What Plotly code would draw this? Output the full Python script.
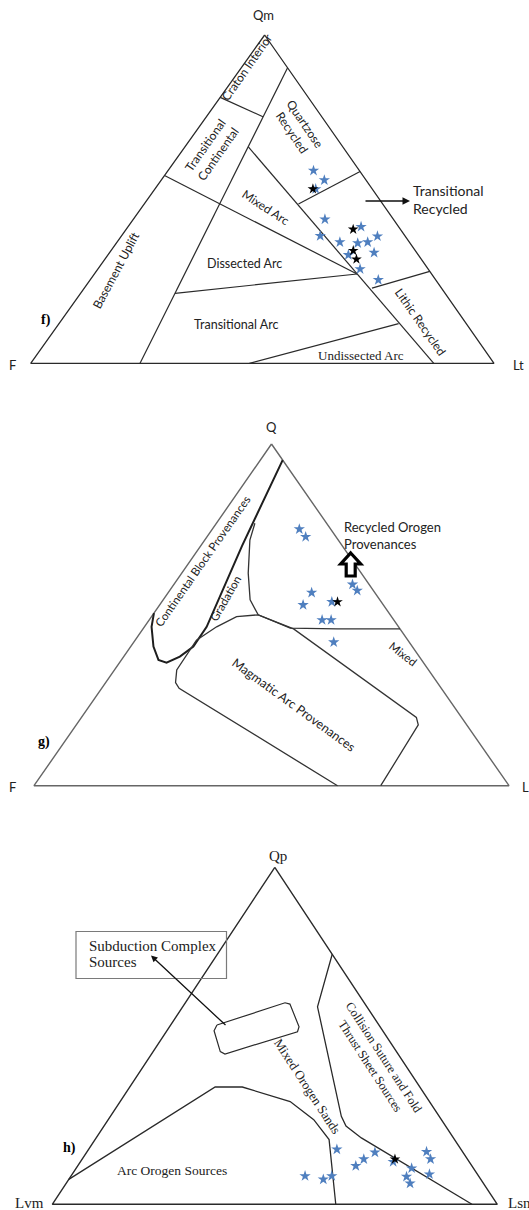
import plotly.graph_objects as go

W, H = 529, 1210

# ---------------- Panel f : Qm - F - Lt (values in %: (Qm, F, Lt)) ----------------
f_boundaries = [
    [(90, 0, 10), (0, 76.4, 23.6)],
    [(81, 19, 0), (75.1, 12.7, 12.2)],
    [(57.2, 42.8, 0), (27.2, 16.1, 56.7)],
    [(65.9, 20.4, 13.7), (0, 13, 87)],
    [(21.3, 58.3, 20.4), (27.2, 16.1, 56.7)],
    [(0, 52.8, 47.2), (12.1, 14.6, 73.3)],
    [(48.5, 18.2, 33.3), (58.4, 0, 41.6)],
    [(22.9, 15.0, 62.1), (28, 0, 72)],
]
f_blue_Qm = [58.7, 55.8, 53.1, 43.9, 41.6, 38.8, 36.9, 36.6, 36.9, 38.7, 33.7, 33.0, 28.7, 25.4]
f_blue_F = [9.9, 9.0, 12.2, 14.8, 8.1, 18.3, 15.0, 11.3, 9.0, 6.0, 9.2, 15.1, 14.7, 12.4]
f_blue_Lt = [31.4, 35.2, 34.7, 41.4, 50.3, 42.9, 48.1, 52.1, 54.1, 55.3, 57.1, 51.9, 56.6, 62.2]
f_black_Qm = [53.1, 40.8, 34.3, 31.7]
f_black_F = [12.8, 10.2, 13.4, 14.0]
f_black_Lt = [34.1, 49.0, 52.3, 54.3]

# ---------------- Panel g : Q - F - L (values in %: (Q, F, L)) ----------------
g_continental = [(50.5, 49.5, 0), (46.5, 52.0, 1.5), (40.7, 54.5, 4.8), (36.8, 55.4, 7.8),
                 (36.0, 54.1, 9.9), (37.8, 50.4, 11.8), (40.7, 46.1, 13.2), (46.5, 40.4, 13.1),
                 (70.2, 21.1, 8.7), (95.3, 0, 4.7)]
g_recycled = [(76.8, 15.1, 8.1), (71.9, 18.6, 9.5), (62.2, 23.8, 14.0), (54.4, 27.3, 18.3),
              (50.0, 27.8, 22.2), (46.1, 23.0, 30.9), (45.9, 13.2, 40.9), (45.9, 0, 54.1)]
g_magmatic = [(0, 36.1, 63.9), (28.5, 55.2, 16.3), (30.2, 55.1, 14.7), (33.9, 53.0, 13.1),
              (42.6, 44.5, 12.9), (46.5, 38.3, 15.2), (49.5, 32.6, 17.9), (50.0, 27.8, 22.2),
              (45.9, 22.4, 31.7), (21.5, 10.2, 68.3), (20.0, 9.5, 70.5), (17.8, 10.2, 72.0),
              (0, 27.0, 73.0)]
g_blue_Q = [75.0, 72.9, 58.9, 57.1, 56.5, 52.9, 53.8, 48.5, 48.5, 42.0]
g_blue_F = [6.6, 6.4, 3.5, 3.4, 13.3, 16.9, 10.4, 15.1, 13.2, 15.9]
g_blue_L = [18.3, 20.8, 37.6, 39.5, 30.2, 30.2, 35.8, 36.4, 38.3, 42.1]
g_black_Q = [53.8]
g_black_F = [9.2]
g_black_L = [37.0]

# ---------------- Panel h : Qp - Lvm - Lsn (values in %: (Qp, Lvm, Lsn)) ----------------
h_collision = [(74.2, 0, 25.8), (58.6, 11.1, 30.3), (26.1, 22.0, 51.9), (23.2, 22.4, 54.4),
               (19.7, 20.7, 59.6), (0, 5.7, 94.3)]
h_arc = [(7.4, 92.6, 0), (34.8, 46.0, 19.2), (34.8, 39.9, 25.3), (30.5, 31.3, 38.2),
         (25.1, 28.7, 46.2), (19.2, 28.2, 52.6), (0, 36.3, 63.7)]
h_subduction = [(53.2, 36.4, 10.4), (59.8, 17.8, 22.4), (59.4, 16.9, 23.7), (52.7, 18.2, 29.1),
                (51.2, 19.3, 29.5), (44.6, 38.9, 16.5), (45.3, 39.6, 15.1), (51.5, 37.9, 10.6),
                (53.2, 36.4, 10.4)]
h_blue_Qp = [16.3, 8.4, 7.4, 8.4, 11.4, 13.4, 15.4, 12.6, 10.7, 8.2, 6.2, 15.6, 13.4, 8.9]
h_blue_Lvm = [27.9, 39.0, 35.4, 33.0, 26.1, 23.3, 19.8, 17.1, 13.9, 16.3, 16.5, 8.1, 8.3, 10.8]
h_blue_Lsn = [55.8, 52.6, 57.2, 58.6, 62.5, 63.3, 64.8, 70.3, 75.4, 75.5, 77.3, 76.3, 78.3, 80.3]
h_black_Qp = [13.4]
h_black_Lvm = [16.3]
h_black_Lsn = [70.3]

TRIANGLE = [(100, 0, 0), (0, 100, 0), (0, 0, 100), (100, 0, 0)]

# panel frames (pixel placement of the triangles)
panels = [
    dict(a=0.505, x0=30.7, x1=494.0, yb=363.3, yt=35.0, edge="#2a2a2a", lw=1.3),
    dict(a=0.500, x0=34.0, x1=509.0, yb=785.7, yt=444.0, edge="#666666", lw=1.4),
    dict(a=0.500, x0=52.3, x1=497.3, yb=1204.3, yt=867.3, edge="#2a2a2a", lw=1.4),
]
PADPX = 5.0


def to_uv(pts, a):
    us, vs = [], []
    for top, left, right in pts:
        s = top + left + right
        t, r = top / s, right / s
        us.append(r + a * t)
        vs.append(t)
    return us, vs


fig = go.Figure()
layout = {}
for i, p in enumerate(panels):
    n = "" if i == 0 else str(i + 1)
    w = p["x1"] - p["x0"]
    h = p["yb"] - p["yt"]
    dx0 = max(p["x0"] - PADPX, 0)
    dx1 = min(p["x1"] + PADPX, W)
    dyb = min(p["yb"] + PADPX, H)
    dyt = max(p["yt"] - PADPX, 0)
    layout["xaxis" + n] = dict(domain=[dx0 / W, dx1 / W],
                               range=[-(p["x0"] - dx0) / w, 1 + (dx1 - p["x1"]) / w],
                               visible=False, fixedrange=True, anchor="y" + n)
    layout["yaxis" + n] = dict(domain=[1 - dyb / H, 1 - dyt / H],
                               range=[-(dyb - p["yb"]) / h, 1 + (p["yt"] - dyt) / h],
                               visible=False, fixedrange=True, anchor="x" + n)


def add_line(pts, i, color, width):
    p = panels[i]
    n = "" if i == 0 else str(i + 1)
    u, v = to_uv(pts, p["a"])
    fig.add_trace(go.Scatter(x=u, y=v, mode="lines", line=dict(color=color, width=width),
                             xaxis="x" + n, yaxis="y" + n, hoverinfo="skip"))


def add_stars(tops, lefts, rights, i, color, size):
    p = panels[i]
    n = "" if i == 0 else str(i + 1)
    u, v = to_uv(list(zip(tops, lefts, rights)), p["a"])
    fig.add_trace(go.Scatter(x=u, y=v, mode="markers", cliponaxis=False,
                             marker=dict(symbol="star", size=size, color=color,
                                         line=dict(width=0)),
                             xaxis="x" + n, yaxis="y" + n))


BLUE = "#4f7fbf"
# panel f
add_line(TRIANGLE, 0, panels[0]["edge"], panels[0]["lw"])
for b in f_boundaries:
    add_line(b, 0, "#2a2a2a", 1.2)
add_stars(f_blue_Qm, f_blue_F, f_blue_Lt, 0, BLUE, 8.5)
add_stars(f_black_Qm, f_black_F, f_black_Lt, 0, "#000000", 8)

# panel g
add_line(TRIANGLE, 1, panels[1]["edge"], panels[1]["lw"])
add_line(g_continental, 1, "#1e1e1e", 2.0)
add_line(g_recycled, 1, "#333333", 1.3)
add_line(g_magmatic, 1, "#333333", 1.3)
add_stars(g_blue_Q, g_blue_F, g_blue_L, 1, BLUE, 8.5)
add_stars(g_black_Q, g_black_F, g_black_L, 1, "#000000", 8)

# panel h
add_line(TRIANGLE, 2, panels[2]["edge"], panels[2]["lw"])
add_line(h_collision, 2, "#2a2a2a", 1.3)
add_line(h_arc, 2, "#2a2a2a", 1.3)
add_line(h_subduction, 2, "#2a2a2a", 1.2)
add_stars(h_blue_Qp, h_blue_Lvm, h_blue_Lsn, 2, BLUE, 8.5)
add_stars(h_black_Qp, h_black_Lvm, h_black_Lsn, 2, "#000000", 8)

SANS = "Lato, 'Open Sans', sans-serif"
SERIF = "'Liberation Serif', 'DejaVu Serif', serif"
annotations = []


def label(text, x, y, size=11, angle=0, family=SANS, color="#222222", xanchor="center",
          align="center"):
    annotations.append(dict(text=text, x=x / W, y=1 - y / H, xref="paper", yref="paper",
                            showarrow=False, textangle=angle, xanchor=xanchor,
                            yanchor="middle", align=align,
                            font=dict(size=size, family=family, color=color)))


# panel f labels
label("Qm", 263.5, 15, 13)
label("F", 12, 365, 13)
label("Lt", 511, 365, 13, xanchor="left")
label("Craton Interior", 247.5, 67, 12, -55)
label("Transitional<br>Continental", 211, 150, 12, -55)
label("Quartzose<br>Recycled", 298.5, 128.5, 12, 56)
label("Mixed Arc", 266, 207.5, 12, 33)
label("Dissected Arc", 244, 263, 12.5)
label("Transitional Arc", 235.5, 324, 12.5)
label("Undissected Arc", 360.5, 355, 13, family=SERIF)
label("Lithic Recycled", 420, 322, 12, 55)
label("Basement Uplift", 115.5, 270, 12, -62)
label("Transitional<br>Recycled", 411, 199, 14, xanchor="left", align="left")
label("<b>f)</b>", 46, 320, 14, family=SERIF, color="#000")

# panel g labels
label("Q", 271, 427, 13)
label("F", 12, 787, 13)
label("L", 520, 787, 13, xanchor="left")
label("<b>g)</b>", 44, 742, 14, family=SERIF, color="#000")
label("Continental Block Provenances", 202, 561, 11.5, -55)
label("Gradation", 225.5, 599, 11.5, -60)
label("Recycled Orogen<br>Provenances", 342, 536, 13, xanchor="left", align="left")
label("Mixed", 403, 653, 11.5, 38)
label("Magmatic Arc Provenances", 293.5, 704, 12.5, 36)

# panel h labels
label("Qp", 278, 856, 15, family=SERIF)
label("Lvm", 29, 1203, 15, family=SERIF)
label("Lsn", 506, 1203, 15, family=SERIF, xanchor="left")
label("<b>h)</b>", 69, 1148, 14, family=SERIF, color="#000")
label("Arc Orogen Sources", 172, 1170.5, 13.5, family=SERIF)
label("Mixed Orogen Sands", 307.5, 1086.5, 13, 57, family=SERIF)
label("Collision Suture and Fold<br>Thrust Sheet Sources", 377.5, 1061.5, 12.5, 57,
      family=SERIF)
label("Subduction Complex", 87, 945.5, 15, family=SERIF, xanchor="left")
label("Sources", 87, 961.5, 15, family=SERIF, xanchor="left")

# arrows
annotations.append(dict(x=410 / W, y=1 - 201 / H, xref="paper", yref="paper", text="",
                        showarrow=True, ax=-46, ay=0, arrowhead=2, arrowsize=1,
                        arrowwidth=1.5, arrowcolor="#111"))
annotations.append(dict(x=151 / W, y=1 - 955.5 / H, xref="paper", yref="paper", text="",
                        showarrow=True, ax=76, ay=71, arrowhead=2, arrowsize=1,
                        arrowwidth=1.3, arrowcolor="#111"))


def block_arrow(cx, top, bottom, head_w, shaft_w, head_h):
    """Outlined up-pointing block arrow icon, built in paper coordinates."""
    pts = [(cx, top), (cx + head_w / 2, top + head_h), (cx + shaft_w / 2, top + head_h),
           (cx + shaft_w / 2, bottom), (cx - shaft_w / 2, bottom),
           (cx - shaft_w / 2, top + head_h), (cx - head_w / 2, top + head_h)]
    path = "M " + " L ".join(f"{x / W:.5f},{1 - y / H:.5f}" for x, y in pts) + " Z"
    return dict(type="path", xref="paper", yref="paper", path=path, fillcolor="white",
                line=dict(color="black", width=3.2))


shapes = [dict(type="rect", xref="paper", yref="paper", x0=76 / W, x1=226.5 / W,
               y0=1 - 978.5 / H, y1=1 - 931.5 / H, line=dict(color="#7a7a7a", width=1.2)),
          block_arrow(350.7, 553, 576, 20, 9, 11)]

fig.update_layout(**layout)
fig.update_layout(width=W, height=H, margin=dict(l=0, r=0, t=0, b=0),
                  paper_bgcolor="white", plot_bgcolor="white", showlegend=False,
                  annotations=annotations, shapes=shapes)

fig.write_html("out.html", config={"displayModeBar": False, "staticPlot": True},
               post_script="document.body.style.margin='0';document.body.style.overflow='hidden';")
